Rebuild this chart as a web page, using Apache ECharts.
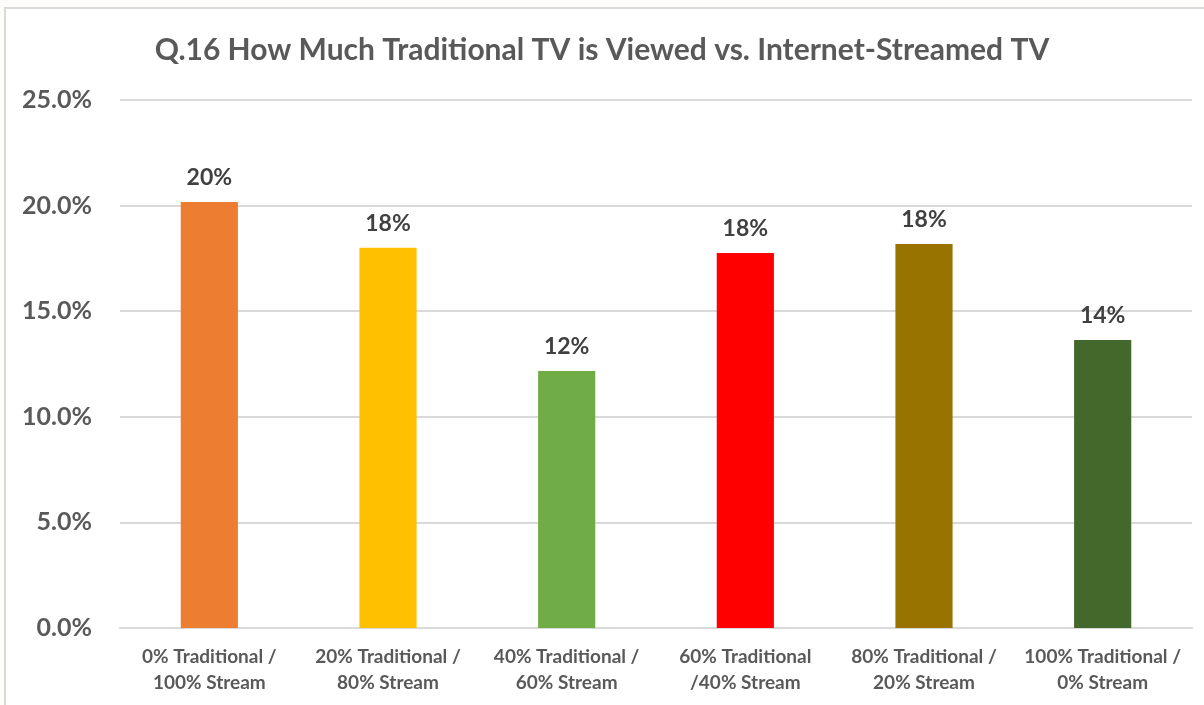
<!DOCTYPE html>
<html><head><meta charset="utf-8">
<script src="https://cdn.jsdelivr.net/npm/echarts@6/dist/echarts.min.js"></script>
<style>html,body{margin:0;padding:0;background:#fdfcf8}#c{width:1204px;height:705px}</style>
</head><body><div id="c"></div>
<script>
const categories = ['0% Traditional /\n100% Stream','20% Traditional /\n80% Stream','40% Traditional /\n60% Stream','60% Traditional\n/40% Stream','80% Traditional /\n20% Stream','100% Traditional /\n0% Stream'];
const values = [0.2017, 0.1800, 0.1217, 0.1776, 0.1818, 0.1364];
const labels = ['20%','18%','12%','18%','18%','14%'];
const colors = ['#ED7D31','#FFC000','#70AD47','#FF0000','#997300','#43682B'];
const yTicks = [0, 0.05, 0.10, 0.15, 0.20, 0.25];
const titleText = 'Q.16 How Much Traditional TV is Viewed vs. Internet-Streamed TV';

const chart = echarts.init(document.getElementById('c'));
const font = 'Lato, "Open Sans", sans-serif';
chart.setOption({
  backgroundColor: '#fdfcf8',
  animation: false,
  graphic: [{type:'rect', z:-10, shape:{x:5,y:8,width:1210,height:710}, style:{fill:'#ffffff', stroke:'#d9d9d9', lineWidth:2}}],
  title: {text: titleText, left: 'center', top: 30, textStyle:{fontFamily:font, fontSize:30, fontWeight:'bold', color:'#595959'}},
  grid: {left:120, right:12, top:100, bottom:77},
  xAxis: {type:'category', data: categories,
    axisLine:{lineStyle:{color:'#d9d9d9', width:2}}, axisTick:{show:false},
    axisLabel:{fontFamily:font, fontSize:19, fontWeight:'bold', color:'#595959', lineHeight:26, margin:16, interval:0}},
  yAxis: {type:'value', min:0, max:0.25, interval:0.05,
    axisLine:{show:false}, axisTick:{show:false},
    splitLine:{lineStyle:{color:'#d9d9d9', width:2}},
    axisLabel:{fontFamily:font, fontSize:25, fontWeight:'bold', color:'#595959', margin:28,
      formatter: v => (v*100).toFixed(1)+'%'}},
  series: [{type:'bar', barWidth:'32%',
    data: values.map((v,i)=>({value:v, itemStyle:{color:colors[i]}})),
    label:{show:true, position:'top', distance:13, fontFamily:font, fontSize:23, fontWeight:'bold', color:'#404040',
      formatter: p => labels[p.dataIndex]}}]
});
</script></body></html>
